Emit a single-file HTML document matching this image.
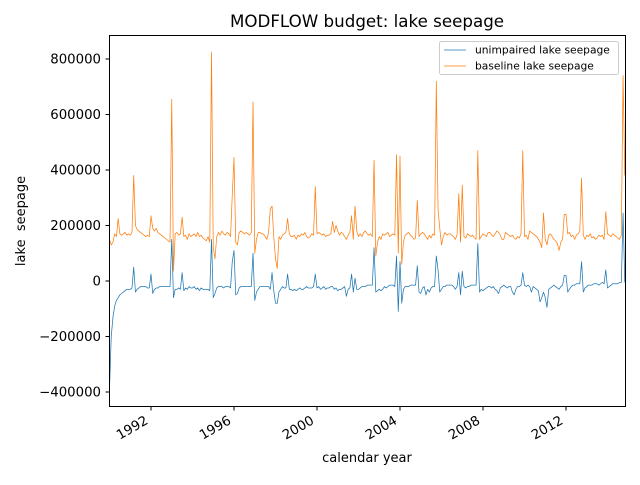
<!DOCTYPE html>
<html><head><meta charset="utf-8"><style>
body{margin:0;background:#fff;}
svg text{font-family:"DejaVu Sans","Liberation Sans",sans-serif;fill:#000;}
</style></head><body>
<svg id="chart" width="640" height="480" xmlns="http://www.w3.org/2000/svg">
<rect width="640" height="480" fill="#fff"/>
<text x="367" y="27" font-size="16.7" text-anchor="middle">MODFLOW budget: lake seepage</text>
<g id="plot"></g>
<rect x="109.5" y="35.5" width="516" height="371" fill="none" stroke="#000" stroke-width="1"/>
<g id="yticks"></g><g id="xticks"></g>
<text transform="translate(25,221) rotate(-90)" font-size="13" text-anchor="middle">lake&#160; seepage</text>
<text x="367" y="462" font-size="13" text-anchor="middle">calendar year</text>
<g>
<rect x="439.5" y="41.5" width="179" height="33" rx="2" fill="#fff" fill-opacity="0.8" stroke="#ccc"/>
<line x1="444" y1="50" x2="466" y2="50" stroke="#1f77b4" stroke-width="0.7"/>
<text x="475" y="53.5" font-size="10.7">unimpaired lake seepage</text>
<line x1="444" y1="66" x2="466" y2="66" stroke="#ff7f0e" stroke-width="0.7"/>
<text x="475" y="69.5" font-size="10.7">baseline lake seepage</text>
</g>
</svg>
<script>
// monthly values (thousands) starting Jan 1990
const baseline = [
150,130,140,170,160,225,170,165,170,175,165,170,
165,175,380,200,185,180,175,170,165,160,165,160,
235,190,180,190,175,170,165,160,155,150,145,140,
655,35,170,175,165,170,230,160,165,150,170,160,
165,170,160,175,160,165,155,150,145,160,140,825,
120,80,160,175,165,180,170,165,175,170,160,310,
445,140,130,175,180,175,170,175,170,165,175,645,
100,150,175,175,170,170,160,150,175,260,270,160,
80,45,160,150,165,170,175,225,170,160,160,165,
150,165,160,170,165,175,160,155,160,170,165,340,
170,175,170,165,170,160,165,165,170,215,175,200,
180,165,175,170,160,150,165,175,235,150,270,180,
160,170,160,175,180,170,165,170,160,435,90,140,
160,150,170,165,170,175,160,165,170,165,455,100,
450,60,140,165,170,175,165,160,150,155,290,160,
170,175,170,160,150,165,155,170,165,720,260,190,
130,160,175,165,170,170,165,160,150,165,315,140,
345,160,155,170,165,160,165,155,150,470,150,160,
170,165,160,175,175,165,160,170,180,175,165,150,
150,175,170,165,160,165,155,150,160,155,170,470,
160,165,150,180,175,170,165,160,150,140,120,245,
150,130,165,170,160,150,145,135,110,140,150,240,
240,170,175,160,165,150,165,170,180,370,165,150,
165,160,170,155,160,150,155,165,160,165,150,250,
170,165,160,170,165,160,155,150,165,740,380];
const unimpaired = [
-390,-200,-130,-90,-70,-60,-50,-45,-40,-35,-30,-30,
-30,-25,50,-40,-30,-25,-20,-20,-20,-20,-25,-25,
25,-45,-30,-25,-25,-20,-20,-20,-20,-20,-20,-20,
150,-60,-30,-30,-25,-30,30,-35,-25,-30,-20,-25,
-25,-20,-30,-25,-35,-25,-30,-30,-30,-30,-35,150,
-60,-45,-25,-20,-20,-20,-25,-20,-20,-20,-25,70,
110,-50,-45,-25,-20,-20,-20,-20,-20,-20,-20,100,
-70,-40,-30,-20,-20,-20,-20,-20,-20,-30,30,-35,
-80,-80,-40,-30,-20,-25,-25,25,-30,-30,-35,-30,
-35,-30,-25,-30,-30,-25,-20,-25,-25,-25,-20,25,
-25,-20,-30,-25,-20,-30,-25,-25,-20,-20,-30,-25,
-35,-30,-30,-25,-20,-55,-30,-25,25,-40,10,-30,
-30,-25,-20,-20,-20,-15,-15,-15,-15,120,-40,-35,
-30,-35,-30,-20,-25,-20,-15,-15,-15,-20,90,-110,
70,-80,-30,-20,-20,-20,-15,-15,-15,-15,55,-40,
-45,-25,-20,-50,-30,-40,-25,-20,-20,90,40,-40,
-30,-20,-20,-15,-15,-15,-15,-20,-30,-20,30,-50,
35,-20,-25,-20,-20,-15,-15,-15,-15,135,-40,-30,
-35,-30,-25,-20,-20,-25,-20,-30,-35,-45,-25,-20,
-15,-20,-25,-20,-20,-40,-50,-30,-20,-20,-15,30,
-15,-20,-15,-20,-40,-20,-25,-30,-35,-75,-60,-40,
-60,-95,-30,-25,-20,-15,-20,-25,-30,-20,-15,20,
20,-40,-30,-20,-15,-15,-10,-10,-10,70,-40,-25,
-20,-15,-15,-15,-10,-10,-10,-15,-10,-5,-10,40,
-25,-20,-15,-10,-10,-10,-10,-5,-5,245,-5];
const yTicks = [-400000,-200000,0,200000,400000,600000,800000];
const xTickYears = [1992,1996,2000,2004,2008,2012];
const startYear = 1990;

const NS="http://www.w3.org/2000/svg";
const xOf = t => 109.5 + (t - startYear) * 20.75;
const yOf = v => 281 - v / 200000 * 55.5;
const mk = (tag, attrs, parent) => { const e=document.createElementNS(NS,tag); for(const k in attrs) e.setAttribute(k,attrs[k]); parent.appendChild(e); return e; };

const plot=document.getElementById('plot');
function drawSeries(arr, color, name){
  const pts = arr.map((v,i)=> xOf(startYear + i/12).toFixed(2)+','+yOf(v*1000).toFixed(2)).join(' ');
  const pl = mk('polyline',{points:pts,fill:'none',stroke:color,'stroke-width':0.75,'stroke-linejoin':'round'},plot);
  
  
}
drawSeries(unimpaired,'#1f77b4','unimpaired-line');
drawSeries(baseline,'#ff7f0e','baseline-line');

const yg=document.getElementById('yticks');
yTicks.forEach(v=>{
  const y=yOf(v);
  mk('line',{x1:105.5,x2:109.5,y1:y,y2:y,stroke:'#000'},yg);
  const t=mk('text',{x:101,y:y+4.5,'font-size':13.3,'text-anchor':'end'},yg);
  t.textContent=(v<0?'\u2212':'')+Math.abs(v);
  
  
});
const xg=document.getElementById('xticks');
xTickYears.forEach(yr=>{
  const x=xOf(yr);
  mk('line',{x1:x,x2:x,y1:406.5,y2:410.5,stroke:'#000'},xg);
  const ax=x-2, ay=423;
  const t=mk('text',{x:ax,y:ay,'font-size':13.3,'text-anchor':'end',transform:`rotate(-30 ${ax} ${ay})`},xg);
  t.textContent=yr;
  
  
});
</script>
</body></html>
